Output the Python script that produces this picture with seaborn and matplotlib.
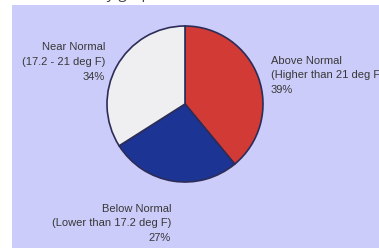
import matplotlib
matplotlib.use("Agg")
import matplotlib.pyplot as plt
import seaborn as sns
from matplotlib.patches import Rectangle

# Data
categories = ["Above Normal", "Below Normal", "Near Normal"]
ranges = ["(Higher than 21 deg F)", "(Lower than 17.2 deg F)", "(17.2 - 21 deg F)"]
percents = [39, 27, 34]
colors = ["#d23a36", "#1c3594", "#efeff1"]

sns.set_style("white")
plt.rcParams['font.family'] = ['Liberation Sans', 'DejaVu Sans']

W, H = 379, 250
fig = plt.figure(figsize=(W / 100, H / 100), dpi=100)
fig.patch.set_facecolor("white")

ax = fig.add_axes([0, 0, 1, 1])
ax.patch.set_alpha(0)

cx, cy, r = 185, H - 104, 78
ax.pie(percents, colors=colors, startangle=90, counterclock=False,
       center=(cx, cy), radius=r,
       wedgeprops=dict(edgecolor="#2c2c58", linewidth=1.2), frame=True)
ax.add_patch(Rectangle((12, 2), W - 12, H - 7, facecolor="#ccccfa",
                       edgecolor="none", zorder=-5))
ax.set_xlim(0, W)
ax.set_ylim(0, H)
ax.set_aspect("equal")
ax.axis("off")

tc = "#383838"
fs = 8
ls = 1.6
ax.text(271, H - 55.5, f"{categories[0]}\n{ranges[0]}\n{percents[0]}%", ha="left", va="top",
        fontsize=fs, color=tc, linespacing=ls, clip_on=False)
ax.text(171, H - 203.5, f"{categories[1]}\n{ranges[1]}\n{percents[1]}%", ha="right", va="top",
        fontsize=fs, color=tc, linespacing=ls, multialignment="right")
ax.text(105, H - 42.5, f"{categories[2]}\n{ranges[2]}\n{percents[2]}%", ha="right", va="top",
        fontsize=fs, color=tc, linespacing=ls, multialignment="right")

# cut-off title fragment at the very top
fig.text(38 / W, 1 + 2.5 / H, "Probability graph", ha="left", va="baseline",
         fontsize=11, color="#444444", family=["Open Sans", "DejaVu Sans"])

fig.savefig("out.png", dpi=100)
